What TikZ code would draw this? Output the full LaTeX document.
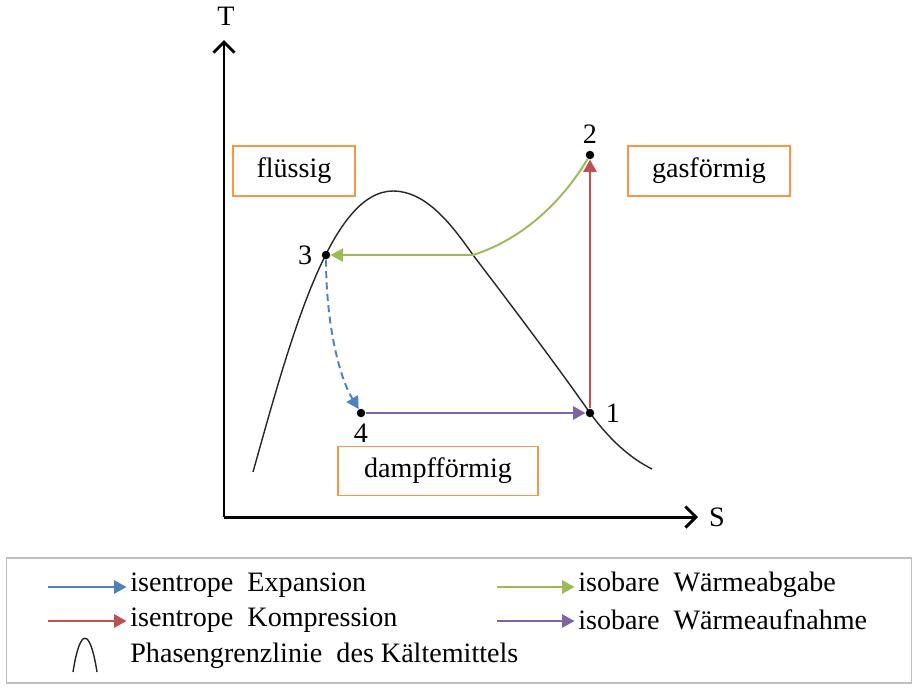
\documentclass[tikz,border=0pt]{standalone}
\usepackage{fontspec}
\setmainfont{Liberation Serif}
\usepackage{xcolor}
\usetikzlibrary{arrows.meta, positioning}

\definecolor{boxorange}{HTML}{F79646}
\definecolor{expblue}{HTML}{4F81BD}
\definecolor{kompred}{HTML}{C0504D}
\definecolor{abggreen}{HTML}{9BBB59}
\definecolor{aufpurple}{HTML}{8064A2}

\begin{document}
\begin{tikzpicture}[
    x=0.02cm, y=-0.02cm,
    every node/.style={font=\fontsize{16}{19}\selectfont},
    axis/.style={line width=1.7pt, -{Straight Barb[length=6pt, width=12pt, line width=1.7pt]}},
    region/.style={rectangle, draw=boxorange, line width=0.8pt, minimum height=1.0cm, align=center},
    point/.style={circle, fill=black, inner sep=0pt, minimum size=0.17cm},
    phase/.style={line width=0.8pt, black!85},
    proc/.style={line width=1.1pt, -{Triangle[length=7pt, width=7.5pt]}},
    expan/.style={proc, expblue, dash pattern=on 4pt off 2.5pt},
    kompr/.style={proc, kompred},
    abgabe/.style={proc, abggreen},
    aufnahme/.style={proc, aufpurple},
    legtext/.style={anchor=west, inner sep=0pt}
]
    \useasboundingbox (0,0) rectangle (916,691);

    % Axes
    \coordinate (origin) at (224,517);
    \coordinate (tend) at (224,40);
    \coordinate (send) at (698,517);
    \draw [axis] (origin) -- (tend);
    \draw [axis] (origin) -- (send);
    \node (tlbl) at (226,16) {T};
    \node (slbl) at (717,517) {S};

    % Phase boundary
    \draw [phase] (253,472) .. controls (290,340) and (330,191) .. (393,191)
        .. controls (425,191) and (450,222) .. (473,255)
        .. controls (515,310) and (560,370) .. (590,413)
        .. controls (610,440) and (630,458) .. (652,469);

    % Regions
    \node (fl) [region, minimum width=2.44cm] at (294,171) {flüssig};
    \node (gas) [region, minimum width=3.24cm] at (709,171) {gasförmig};
    \node (dampf) [region, minimum width=4.0cm, minimum height=0.98cm] at (438,471) {dampfförmig};

    % Cycle points
    \node (p1) [point] at (590,413) {};
    \node (p2) [point] at (590,155) {};
    \node (p3) [point] at (326,255) {};
    \node (p4) [point] at (361,413) {};
    \node (l1) [right=0.1cm of p1] {1};
    \node (l2) [above=0.01cm of p2] {2};
    \node (l3) [left=0.06cm of p3] {3};
    \node (l4) [below=0.01cm of p4] {4};
    \coordinate (cross) at (473,255);

    % Processes
    \draw [kompr] (p1) -- (p2);
    \draw [abgabe] (p2) .. controls (560,205) and (520,240) .. (cross) -- (p3);
    \draw [expan] (p3) .. controls (326,320) and (338,375) .. (p4);
    \draw [aufnahme] (p4) -- (p1);

    % Legend
    \node (legend) [rectangle, draw=black!25, line width=0.8pt, minimum width=18.1cm, minimum height=2.5cm] at (459,620.5) {};
    \node (t_exp) [legtext] at (130,585) {isentrope\ \ Expansion};
    \node (t_komp) [legtext] at (130,620) {isentrope\ \ Kompression};
    \node (t_phase) [legtext] at (130,656) {Phasengrenzlinie\ \ des Kältemittels};
    \node (t_abg) [legtext] at (578,585) {isobare\ \ Wärmeabgabe};
    \node (t_auf) [legtext] at (578,620) {isobare\ \ Wärmeaufnahme};
    \coordinate (s_exp) at (48,587);
    \coordinate (s_komp) at (48,621);
    \coordinate (s_abg) at (497,587);
    \coordinate (s_auf) at (497,621);
    \draw [proc, expblue] (s_exp) -- ([xshift=-2pt]t_exp.west |- s_exp);
    \draw [proc, kompred] (s_komp) -- ([xshift=-2pt]t_komp.west |- s_komp);
    \draw [abgabe] (s_abg) -- ([xshift=-2pt]t_abg.west |- s_abg);
    \draw [aufnahme] (s_auf) -- ([xshift=-2pt]t_auf.west |- s_auf);
    \draw [phase] (73,672) .. controls (80,627) and (90,627) .. (97,672);
\end{tikzpicture}
\end{document}
